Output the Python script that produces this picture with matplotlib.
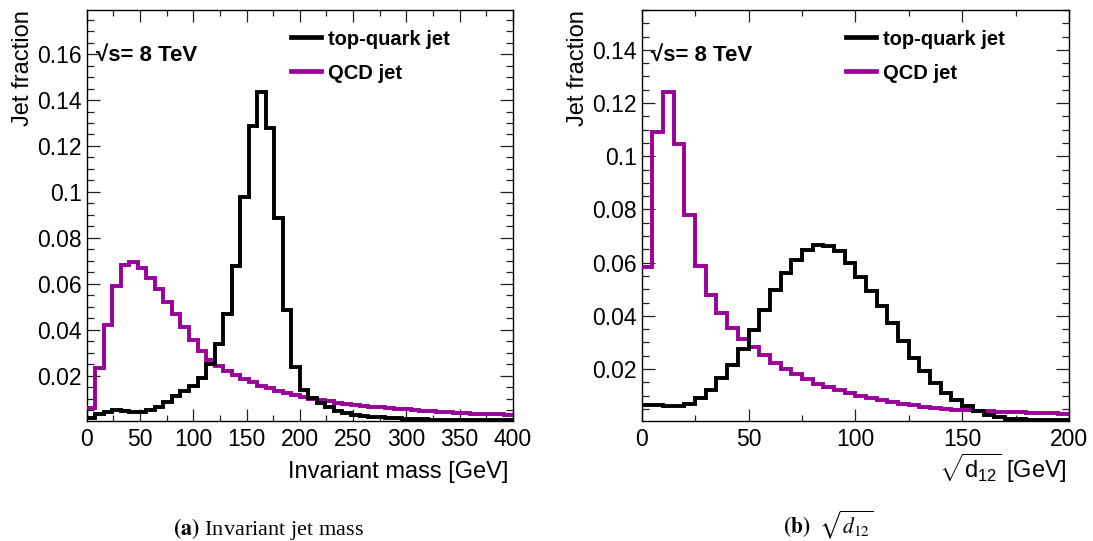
import numpy as np
import matplotlib
matplotlib.use("Agg")
import matplotlib.pyplot as plt
from matplotlib.ticker import MultipleLocator, FuncFormatter
from matplotlib.lines import Line2D

# ---------------- data ----------------
mass_range = (0, 400)
mass_nbins = 50
d12_range = (0, 200)
d12_nbins = 40

series_labels = ["top-quark jet", "QCD jet"]
energy_label = "\u221as= 8 TeV"

top_mass = [0.0014, 0.0031, 0.0043, 0.0050, 0.0046, 0.0042, 0.0042, 0.0050, 0.0065, 0.0087,
            0.0110, 0.0133, 0.0156, 0.0188, 0.0253, 0.0340, 0.0470, 0.0679, 0.0976, 0.1287,
            0.1436, 0.1280, 0.0885, 0.0486, 0.0239, 0.0137, 0.0101, 0.0080, 0.0062, 0.0048,
            0.0039, 0.0030, 0.0026, 0.0022, 0.0019, 0.0016, 0.0014, 0.0012, 0.0011, 0.0010,
            0.0009, 0.0009, 0.0008, 0.0008, 0.0008, 0.0007, 0.0007, 0.0007, 0.0006, 0.0006]

qcd_mass = [0.0060, 0.0232, 0.0420, 0.0590, 0.0682, 0.0696, 0.0667, 0.0627, 0.0576, 0.0522,
            0.0468, 0.0413, 0.0355, 0.0307, 0.0268, 0.0242, 0.0222, 0.0203, 0.0185, 0.0171,
            0.0156, 0.0145, 0.0135, 0.0123, 0.0116, 0.0106, 0.0100, 0.0094, 0.0088, 0.0082,
            0.0078, 0.0074, 0.0069, 0.0065, 0.0062, 0.0059, 0.0056, 0.0053, 0.0050, 0.0048,
            0.0045, 0.0043, 0.0041, 0.0039, 0.0037, 0.0035, 0.0034, 0.0032, 0.0031, 0.0029]

top_d12 = [0.0065, 0.0065, 0.0062, 0.0062, 0.0068, 0.0090, 0.0123, 0.0165, 0.0215, 0.0275,
           0.0347, 0.0424, 0.0499, 0.0560, 0.0610, 0.0647, 0.0666, 0.0664, 0.0645, 0.0600,
           0.0548, 0.0495, 0.0438, 0.0372, 0.0305, 0.0242, 0.0194, 0.0147, 0.0110, 0.0084,
           0.0063, 0.0042, 0.0028, 0.0019, 0.0014, 0.0012, 0.0010, 0.0009, 0.0008, 0.0008]

qcd_d12 = [0.0585, 0.1092, 0.1243, 0.1048, 0.0779, 0.0587, 0.0478, 0.0410, 0.0353, 0.0312,
           0.0284, 0.0253, 0.0224, 0.0200, 0.0180, 0.0161, 0.0145, 0.0133, 0.0121, 0.0110,
           0.0100, 0.0091, 0.0083, 0.0076, 0.0070, 0.0064, 0.0059, 0.0055, 0.0051, 0.0048,
           0.0045, 0.0043, 0.0041, 0.0040, 0.0038, 0.0037, 0.0036, 0.0035, 0.0034, 0.0033]

# ---------------- style ----------------
plt.rcParams["font.family"] = ["Liberation Sans", "DejaVu Sans"]
plt.rcParams["mathtext.fontset"] = "custom"
plt.rcParams["mathtext.rm"] = "Liberation Sans"
plt.rcParams["mathtext.it"] = "Liberation Sans:italic"
plt.rcParams["mathtext.bf"] = "Liberation Sans:bold"

W, H = 1093, 541
fig = plt.figure(figsize=(W / 100, H / 100), dpi=100)

TOP_COLOR = "black"
QCD_COLOR = "#990099"
LW = 2.8


def fx(px):
    return px / W


def fy(py):
    return 1 - py / H


def make_axes(x0, x1, y0=10, y1=420.7):
    return fig.add_axes([fx(x0), fy(y1), fx(x1) - fx(x0), (y1 - y0) / H])


def style_axes(ax, xlim, ylim, xminor):
    ax.set_xlim(*xlim)
    ax.set_ylim(*ylim)
    ax.xaxis.set_major_locator(MultipleLocator(50))
    ax.xaxis.set_minor_locator(MultipleLocator(xminor))
    ax.yaxis.set_major_locator(MultipleLocator(0.02))
    ax.yaxis.set_minor_locator(MultipleLocator(0.005))
    ax.yaxis.set_major_formatter(FuncFormatter(lambda v, p: "" if v < 0.01 else "%g" % round(v, 4)))
    ax.xaxis.set_major_formatter(FuncFormatter(lambda v, p: "%g" % v))
    ax.tick_params(which="both", direction="in", top=True, right=True, labelsize=16.5,
                   width=0.9, color="#222222")
    ax.tick_params(axis="y", which="major", length=9.4, pad=3.5)
    ax.tick_params(axis="y", which="minor", length=4.8)
    ax.tick_params(axis="x", which="major", length=8.4, pad=5)
    ax.tick_params(axis="x", which="minor", length=4.1)
    for s in ax.spines.values():
        s.set_linewidth(1.0)


def draw_hist(ax, rng, nb, top, qcd):
    edges = np.linspace(rng[0], rng[1], nb + 1)
    ax.stairs(qcd, edges, color=QCD_COLOR, lw=LW, baseline=None, zorder=3)
    ax.stairs(top, edges, color=TOP_COLOR, lw=LW, baseline=None, zorder=4)


def annotate(axleft):
    # sqrt(s) label
    fig.text(fx(axleft + 9.5), fy(61), energy_label, fontsize=16, fontweight="bold",
             ha="left", va="baseline", family=["Liberation Sans", "DejaVu Sans"])
    # legend
    for i, (lab, col) in enumerate(zip(series_labels, [TOP_COLOR, QCD_COLOR])):
        yl = 36.7 + 34 * i
        fig.add_artist(Line2D([fx(axleft + 204), fx(axleft + 234)], [fy(yl), fy(yl)],
                              color=col, lw=3.4, transform=fig.transFigure))
        fig.text(fx(axleft + 241.5), fy(45 + 34.3 * i), lab, fontsize=14.5, fontweight="bold",
                 ha="left", va="baseline")


# ---- panel (a) ----
axL = make_axes(86.7, 513)
draw_hist(axL, mass_range, mass_nbins, top_mass, qcd_mass)
style_axes(axL, mass_range, (0.0004, 0.1792), 25)
annotate(86.7)
fig.text(fx(508), fy(478.3), "Invariant mass [GeV]", fontsize=17, ha="right", va="baseline")
fig.text(fx(23.3), fy(10), "Jet fraction", fontsize=17, rotation=90, ha="center", va="top")
fig.text(fx(173), fy(535), r"$\mathbf{(a)}$ Invariant jet mass", fontsize=16,
         family="Liberation Serif", math_fontfamily="stix", ha="left", va="baseline")

# ---- panel (b) ----
axR = make_axes(641.7, 1069)
draw_hist(axR, d12_range, d12_nbins, top_d12, qcd_d12)
style_axes(axR, d12_range, (0.0006, 0.155), 25)
annotate(641.7)
fig.text(fx(1067), fy(478.3), r"$\sqrt{\mathrm{d}_{12}}$ [GeV]", fontsize=17, ha="right", va="baseline")
fig.text(fx(578.3), fy(10), "Jet fraction", fontsize=17, rotation=90, ha="center", va="top")
fig.text(fx(783), fy(533.5), r"$\mathbf{(b)}\ \ \sqrt{d_{12}}$", fontsize=15.5,
         math_fontfamily="stix", ha="left", va="baseline")

fig.savefig("out.png", dpi=100)
